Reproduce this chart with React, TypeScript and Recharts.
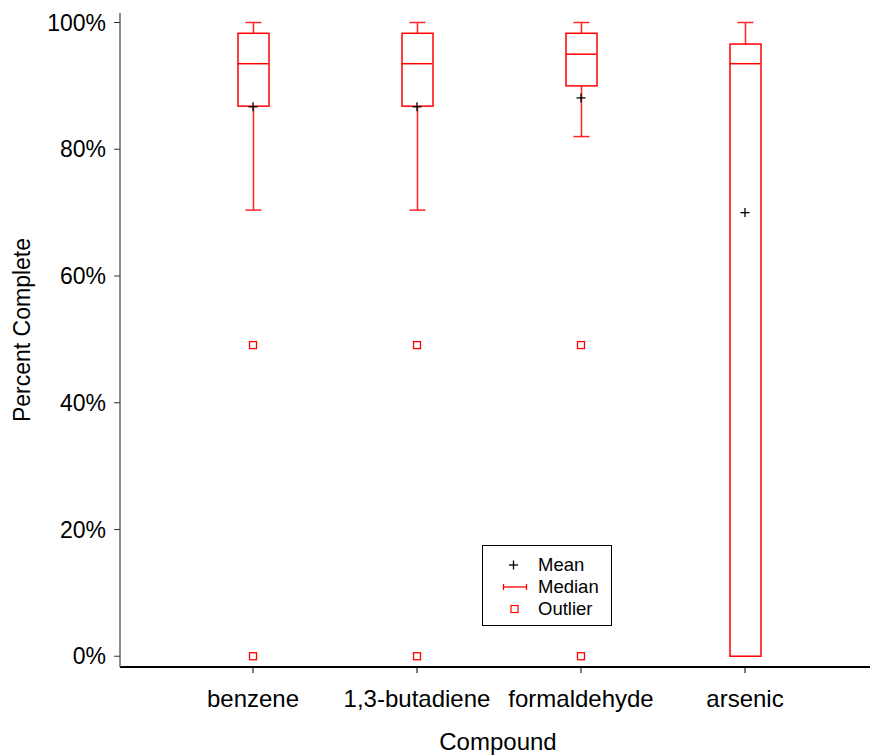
import { Bar, ComposedChart, Legend, Scatter, XAxis, YAxis } from "recharts";
import type { ReactElement } from "react";

const compounds = ["benzene", "1,3-butadiene", "formaldehyde", "arsenic"];
const whiskerLow = [70.4, 70.4, 82.0, 0];
const quartile1 = [86.8, 86.8, 90.0, 0];
const medians = [93.5, 93.5, 95.0, 93.5];
const quartile3 = [98.3, 98.3, 98.3, 96.6];
const whiskerHigh = [100, 100, 100, 100];
const means = [86.7, 86.7, 88.1, 70.0];
const outliersHigh = [49.1, 49.1, 49.1, null];
const outliersLow = [0, 0, 0, null];
const yTicks = [0, 20, 40, 60, 80, 100];
const legendLabels = ["Mean", "Median", "Outlier"];

const FONT = "'Liberation Sans', Arial, sans-serif";
const RED = "#ff0000";
const BOX_HALF = 15.5;

const chartData = compounds.map((name, i) => ({
  name,
  box: [quartile1[i], quartile3[i]],
  whisker: [whiskerLow[i], whiskerHigh[i]],
  median: medians[i],
  mean: means[i],
  outlierHigh: outliersHigh[i],
  outlierLow: outliersLow[i],
}));

function BoxShape({ x, y, width, height }: any): ReactElement {
  return <rect x={x} y={y} width={width} height={Math.max(height, 0.5)} fill="#fff" stroke={RED} strokeWidth={1.5} />;
}

function WhiskerShape({ x, y, width, height }: any): ReactElement {
  const cx = x + width / 2;
  return (
    <g stroke={RED} strokeWidth={1.5} opacity={0.85}>
      <line x1={cx} x2={cx} y1={y} y2={y + height} />
      <line x1={cx - 8} x2={cx + 8} y1={y} y2={y} />
      <line x1={cx - 8} x2={cx + 8} y1={y + height} y2={y + height} />
    </g>
  );
}

function MedianShape({ cx, cy }: any): ReactElement {
  return <line x1={cx - BOX_HALF} x2={cx + BOX_HALF} y1={cy} y2={cy} stroke={RED} strokeWidth={1.5} />;
}

function MeanShape({ cx, cy }: any): ReactElement {
  return (
    <g stroke="#000" strokeWidth={1.3}>
      <line x1={cx - 4.5} x2={cx + 4.5} y1={cy} y2={cy} />
      <line x1={cx} x2={cx} y1={cy - 4.5} y2={cy + 4.5} />
    </g>
  );
}

function makeOutlierShape(key: "outlierHigh" | "outlierLow") {
  return function OutlierShape({ cx, cy, payload }: any): ReactElement {
    if (payload == null || payload[key] == null || !Number.isFinite(cy)) return <g />;
    return <rect x={cx - 3.5} y={cy - 3.5} width={7} height={7} fill="none" stroke={RED} strokeWidth={1.3} />;
  };
}

const OutlierHighShape = makeOutlierShape("outlierHigh");
const OutlierLowShape = makeOutlierShape("outlierLow");

function LegendBox(): ReactElement {
  const icons = [
    <g stroke="#000" strokeWidth={1.3}>
      <line x1={26} x2={35} y1={11} y2={11} />
      <line x1={30.5} x2={30.5} y1={6.5} y2={15.5} />
    </g>,
    <g stroke={RED} strokeWidth={1.3}>
      <line x1={20} x2={44} y1={11} y2={11} />
      <line x1={20.5} x2={20.5} y1={8} y2={14} />
      <line x1={43.5} x2={43.5} y1={8} y2={14} />
    </g>,
    <rect x={28} y={7.5} width={7} height={7} fill="none" stroke={RED} strokeWidth={1.2} />,
  ];
  return (
    <div
      style={{
        width: 130,
        height: 81,
        border: "1px solid #000",
        background: "#fff",
        boxSizing: "border-box",
        paddingTop: 8,
        fontFamily: FONT,
        fontSize: 18.5,
      }}
    >
      {legendLabels.map((label, i) => (
        <div key={label} style={{ display: "flex", alignItems: "center", height: 22 }}>
          <svg width={55} height={22}>{icons[i]}</svg>
          <span>{label}</span>
        </div>
      ))}
    </div>
  );
}

export default function App(): ReactElement {
  return (
    <div style={{ position: "absolute", left: 0, top: 0, width: 870, height: 755, background: "#fff" }}>
      <ComposedChart width={870} height={755} data={chartData} margin={{ top: 13, right: 0, bottom: 0, left: 0 }}>
        <XAxis
          xAxisId="main"
          dataKey="name"
          type="category"
          padding={{ left: 51, right: 43 }}
          height={88}
          axisLine={{ stroke: "#000", strokeWidth: 2 }}
          tickLine={{ stroke: "#000" }}
          tickSize={6}
          tickMargin={17}
          tick={{ fill: "#000", fontSize: 24, fontFamily: FONT }}
          interval={0}
        />
        <XAxis
          xAxisId="top"
          dataKey="name"
          type="category"
          orientation="top"
          padding={{ left: 51, right: 43 }}
          height={0}
          tick={false}
          tickLine={false}
          axisLine={{ stroke: "#666", strokeWidth: 2 }}
        />
        <YAxis
          type="number"
          domain={[-1.7, 101.5]}
          ticks={yTicks}
          allowDataOverflow
          width={120}
          axisLine={{ stroke: "#666", strokeWidth: 1.5 }}
          tickLine={{ stroke: "#333" }}
          tickSize={6}
          tickMargin={8}
          tickFormatter={(v: number) => `${v}%`}
          tick={{ fill: "#000", fontSize: 23, fontFamily: FONT }}
        />
        <Legend
          layout="horizontal"
          verticalAlign="middle"
          content={<LegendBox />}
          wrapperStyle={{ position: "absolute", left: 482, top: 545, width: 131, height: 82 }}
        />
        <Bar xAxisId="top" dataKey="whisker" barSize={31} shape={<WhiskerShape />} isAnimationActive={false} />
        <Bar xAxisId="main" dataKey="box" barSize={31} shape={<BoxShape />} isAnimationActive={false} />
        <Scatter xAxisId="main" dataKey="median" shape={<MedianShape />} isAnimationActive={false} />
        <Scatter xAxisId="main" dataKey="mean" shape={<MeanShape />} isAnimationActive={false} />
        <Scatter xAxisId="main" dataKey="outlierHigh" shape={<OutlierHighShape />} isAnimationActive={false} />
        <Scatter xAxisId="main" dataKey="outlierLow" shape={<OutlierLowShape />} isAnimationActive={false} />
        <text x={0} y={0} transform="translate(30, 330) rotate(-90)" textAnchor="middle" fontSize={23} fontFamily={FONT} fill="#000">
          Percent Complete
        </text>
        <text x={498} y={750} textAnchor="middle" fontSize={24} fontFamily={FONT} fill="#000">
          Compound
        </text>
      </ComposedChart>
    </div>
  );
}
